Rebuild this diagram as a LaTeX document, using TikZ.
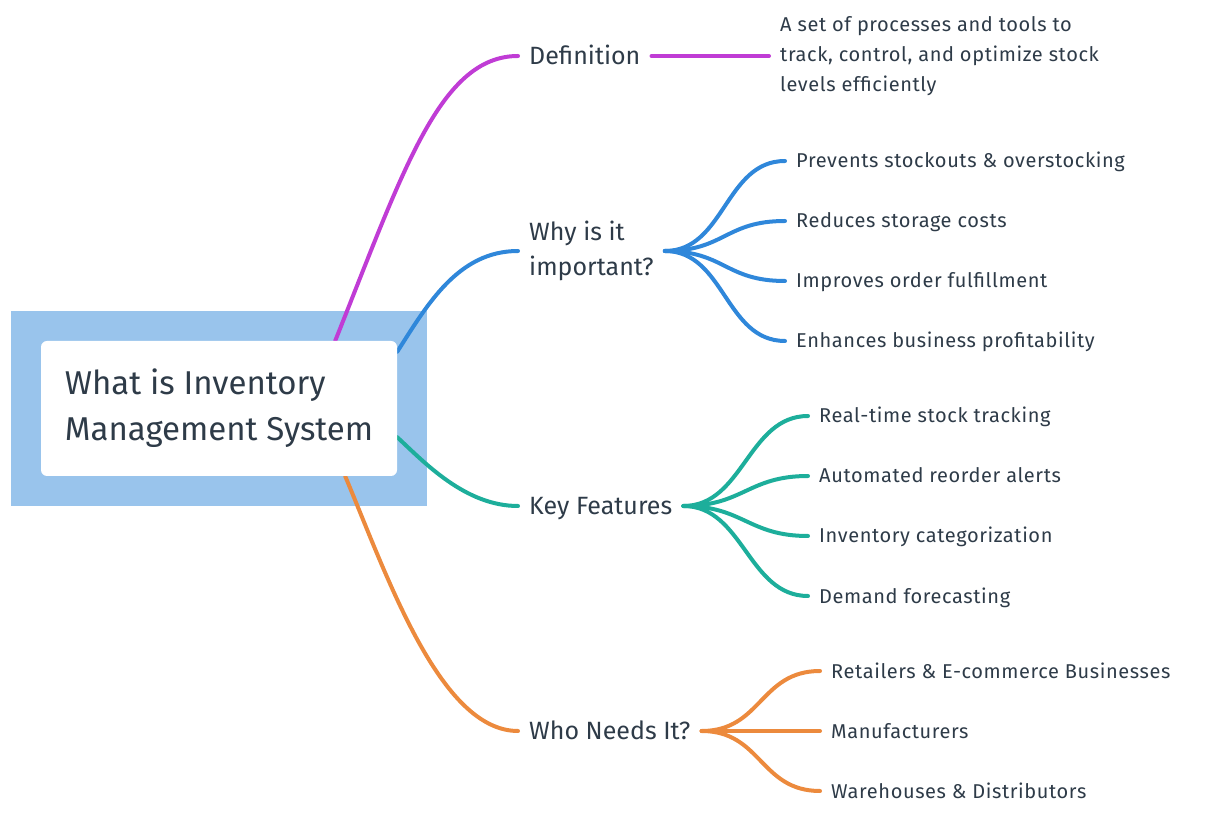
\documentclass[tikz,border=0pt]{standalone}
\usepackage{fontspec}
\setmainfont{Fira Sans}
\newfontfamily\leaffont[LetterSpace=3]{Fira Sans}
\usetikzlibrary{backgrounds}

\definecolor{ink}{HTML}{2E3B48}
\definecolor{defcol}{HTML}{C03CD5}
\definecolor{whycol}{HTML}{2F87DA}
\definecolor{featcol}{HTML}{1DAE9B}
\definecolor{whocol}{HTML}{EC8A3D}
\definecolor{halo}{HTML}{99C4EC}

\begin{document}
\begin{tikzpicture}[x=1pt,y=1pt,
  topic/.style={anchor=west,inner xsep=11pt,inner ysep=0pt,align=left,text=ink,font=\fontsize{25}{35}\selectfont},
  note/.style={anchor=west,inner xsep=11pt,inner ysep=0pt,align=left,text=ink,font=\leaffont\fontsize{20}{30}\selectfont},
  oneline/.style={text height=17pt,text depth=0pt},
  leaf/.style={note,text height=14pt,text depth=0pt},
  link/.style={line width=4pt,line cap=round}]
  \useasboundingbox (0,0) rectangle (1207,817);

  \node (root) [fill=white,rounded corners=6pt,minimum width=356pt,minimum height=135pt,
    align=left,text=ink,font=\fontsize{33}{46}\selectfont] at (219,408.5)
    {What is Inventory\\Management System};

  \node (def)  [topic,oneline] at (518,761) {Definition};
  \node (why)  [topic] at (518,566) {Why is it\\important?};
  \node (feat) [topic,oneline] at (518,311) {Key Features};
  \node (who)  [topic,oneline] at (518,86)  {Who Needs It?};

  \node (desc) [note] at (769,761) {A set of processes and tools to\\track, control, and optimize stock\\levels efficiently};

  \node (why1) [leaf] at (785,656) {Prevents stockouts \& overstocking};
  \node (why2) [leaf] at (785,596) {Reduces storage costs};
  \node (why3) [leaf] at (785,536) {Improves order fulfillment};
  \node (why4) [leaf] at (785,476) {Enhances business profitability};

  \node (feat1) [leaf] at (808,401) {Real-time stock tracking};
  \node (feat2) [leaf] at (808,341) {Automated reorder alerts};
  \node (feat3) [leaf] at (808,281) {Inventory categorization};
  \node (feat4) [leaf] at (808,221) {Demand forecasting};

  \node (who1) [leaf] at (820,146) {Retailers \& E-commerce Businesses};
  \node (who2) [leaf] at (820,86)  {Manufacturers};
  \node (who3) [leaf] at (820,26)  {Warehouses \& Distributors};

  % halo and the branches out of the root sit under the root box
  \begin{scope}[on background layer]
    \fill[halo] ([shift={(-30,-30)}]root.south west) rectangle ([shift={(30,30)}]root.north east);
    \draw[link,defcol]  ([xshift=-62pt]root.north east) .. controls +(68,170) and +(-78,0) .. (def.west);
    \draw[link,whycol]  ([yshift=-11pt]root.north east) .. controls +(30,47) and +(-60,0) .. (why.west);
    \draw[link,featcol] ([yshift=39pt]root.south east) .. controls +(27,-25) and +(-53,0) .. (feat.west);
    \draw[link,whocol]  ([xshift=-52pt]root.south east) .. controls +(42,-100) and +(-78,0) .. (who.west);
  \end{scope}

  \draw[link,defcol] (def.east) -- (desc.west);
  \foreach \c in {why1,why2,why3,why4}
    \draw[link,whycol] (why.east) .. controls +(60,0) and +(-60,0) .. (\c.west);
  \foreach \c in {feat1,feat2,feat3,feat4}
    \draw[link,featcol] (feat.east) .. controls +(60,0) and +(-60,0) .. (\c.west);
  \foreach \c in {who1,who2,who3}
    \draw[link,whocol] (who.east) .. controls +(60,0) and +(-60,0) .. (\c.west);
\end{tikzpicture}
\end{document}
